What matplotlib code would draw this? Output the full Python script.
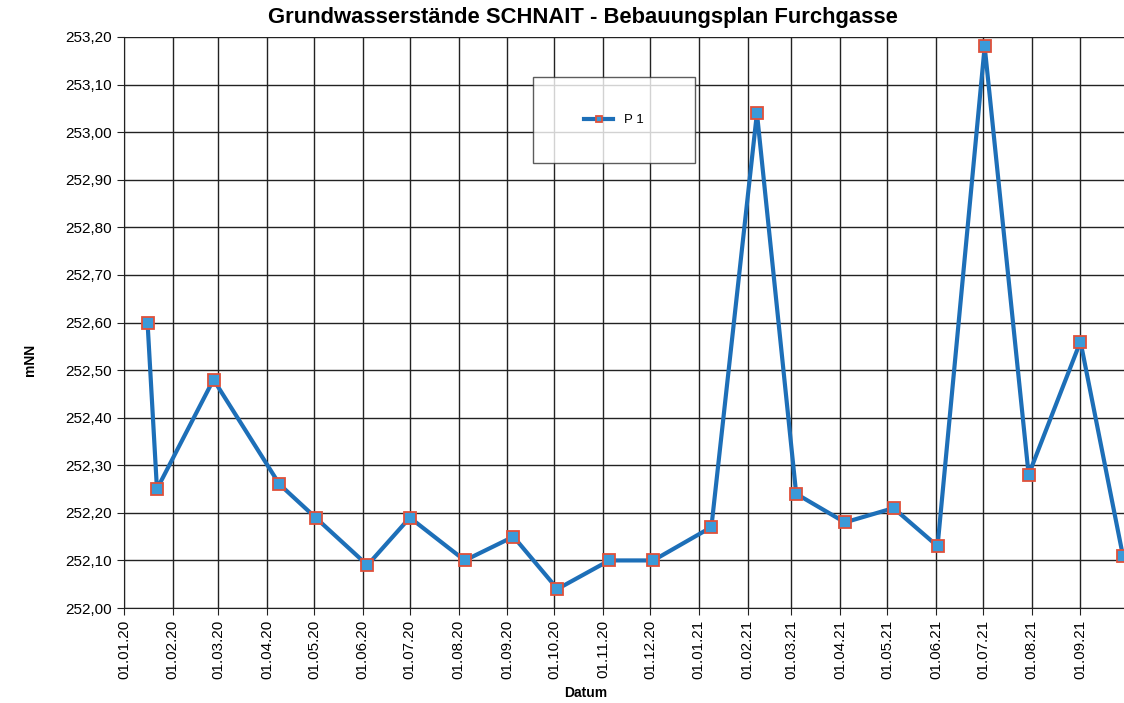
import numpy as np
import matplotlib
matplotlib.use("Agg")
import matplotlib.pyplot as plt
import matplotlib.dates as mdates
from matplotlib.ticker import FuncFormatter, MultipleLocator
from datetime import datetime

# ── Data ───────────────────────────────────────────────────────────────────────
dates = ["2020-01-16", "2020-01-22", "2020-02-27", "2020-04-09", "2020-05-02",
         "2020-06-04", "2020-07-01", "2020-08-05", "2020-09-05", "2020-10-03",
         "2020-11-05", "2020-12-03", "2021-01-09", "2021-02-07", "2021-03-04",
         "2021-04-04", "2021-05-05", "2021-06-02", "2021-07-02", "2021-07-30",
         "2021-09-01", "2021-09-28"]
levels = [252.60, 252.25, 252.48, 252.26, 252.19,
          252.09, 252.19, 252.10, 252.15, 252.04,
          252.10, 252.10, 252.17, 253.04, 252.24,
          252.18, 252.21, 252.13, 253.18, 252.28,
          252.56, 252.11]
series_name = "P 1"

x = [datetime.strptime(d, "%Y-%m-%d") for d in dates]

plt.rcParams["font.family"] = ["Liberation Sans", "DejaVu Sans"]

fig = plt.figure(figsize=(11.24, 7.03), dpi=100)
# plot area runs to (just past) the right edge, like the cropped scan
ax = fig.add_axes([0.1103, 0.1351, 0.8915, 0.8123])

ax.plot(x, levels, color="#1d6fb8", lw=3.0, marker="s", ms=8,
        mfc="#3a9ad9", mec="#e0503a", mew=1.3, label=series_name, zorder=3)

ax.set_xlim(datetime(2020, 1, 1), datetime(2021, 9, 30))
ax.set_ylim(252.0, 253.2)

ax.xaxis.set_major_locator(mdates.MonthLocator())
ax.xaxis.set_major_formatter(mdates.DateFormatter("%d.%m.%y"))
ax.yaxis.set_major_locator(MultipleLocator(0.1))
ax.yaxis.set_major_formatter(FuncFormatter(lambda v, p: f"{v:.2f}".replace(".", ",")))

ax.grid(True, color="#222222", lw=1.0)
ax.set_axisbelow(True)
for s in ("top", "right"):
    ax.spines[s].set_visible(False)
ax.spines["left"].set_color("#222222")
ax.spines["bottom"].set_color("#222222")

ax.tick_params(axis="x", labelrotation=90, labelsize=11, length=5, color="#222222")
ax.tick_params(axis="y", labelsize=11, length=5, color="#222222")

fig.text(0.519, 0.975, "Grundwasserstände SCHNAIT - Bebauungsplan Furchgasse",
         ha="center", va="center", fontsize=15.8, fontweight="bold")
fig.text(0.521, 0.014, "Datum", ha="center", va="center",
         fontsize=10, fontweight="bold")
fig.text(0.027, 0.488, "mNN", ha="center", va="center", rotation=90,
         fontsize=10, fontweight="bold")

# legend box, as drawn in the scan
leg = ax.legend(loc="upper left", bbox_to_anchor=(0.408, 0.93), fontsize=9.5,
                frameon=True, fancybox=False, edgecolor="#333333",
                borderpad=2.8, handlelength=2.2, borderaxespad=0,
                markerscale=0.6)
leg.get_frame().set_linewidth(1.0)
leg._legend_box.set_width(88)

fig.savefig("out.png", dpi=100)
